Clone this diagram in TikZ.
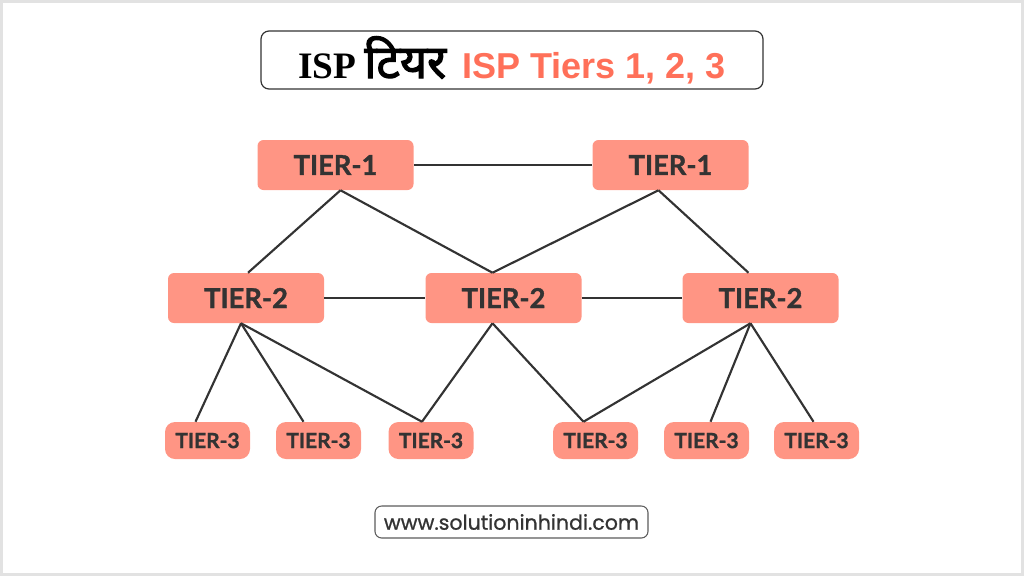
\documentclass[tikz,border=0pt]{standalone}
\usepackage{fontspec}
\setmainfont{Lato}[BoldFeatures={FakeBold=1.3}]
\newfontfamily\titleserif{Liberation Serif}
\newfontfamily\titlesans{Liberation Sans}
\newfontfamily\hindifont[Script=Devanagari,FakeBold=2.5]{Noto Sans}
\newfontfamily\urlfont[FakeBold=0.8]{Poppins}
\usepackage{xcolor}
\usetikzlibrary{calc,positioning}
\definecolor{tierfill}{HTML}{FF9584}
\definecolor{titlered}{HTML}{FF7059}
\definecolor{ink}{HTML}{333333}
\definecolor{framegray}{HTML}{E2E2E2}

\begin{document}
\begin{tikzpicture}[x=0.75pt,y=-0.75pt,
    tier/.style={rectangle,rounded corners=4.5pt,fill=tierfill,text=ink,
                 font=\fontsize{20.5}{24}\selectfont\bfseries,
                 minimum width=117pt,minimum height=37.5pt,inner sep=0pt},
    tiersmall/.style={tier,rounded corners=7.5pt,
                 font=\fontsize{15.7}{19}\selectfont\bfseries,
                 minimum width=63.75pt,minimum height=27.75pt},
    link/.style={draw=ink,line width=1.6pt}]

  \useasboundingbox (0,0) rectangle (1024,576);
  \draw[framegray,line width=2.2pt] (1.5,1.5) rectangle (1022.5,574.5);

  % title
  \node[draw=ink,line width=0.9pt,rounded corners=6pt,fill=white,
        minimum width=376.5pt,minimum height=43.5pt,inner sep=0pt]
        (title) at (512,60)
        {\fontsize{28}{32}\selectfont\bfseries
         {\titleserif ISP}\hspace{6pt}{\hindifont\fontsize{35}{40}\selectfont टियर}\hspace{12pt}{\titlesans\fontsize{27}{32}\selectfont\color{titlered}ISP Tiers 1, 2, 3}};

  % tier 1
  \node[tier] (t1l) at (335.5,165) {TIER-1};
  \node[tier] (t1r) at (670.5,165) {TIER-1};

  % tier 2
  \node[tier] (t2l) at (246,298) {TIER-2};
  \node[tier] (t2m) at (503.5,298) {TIER-2};
  \node[tier] (t2r) at (760.5,298) {TIER-2};

  % tier 3
  \node[tiersmall] (t3a) at (207.5,440.5) {TIER-3};
  \node[tiersmall] (t3b) at (318.5,440.5) {TIER-3};
  \node[tiersmall] (t3c) at (431,440.5) {TIER-3};
  \node[tiersmall] (t3d) at (595.5,440.5) {TIER-3};
  \node[tiersmall] (t3e) at (706.5,440.5) {TIER-3};
  \node[tiersmall] (t3f) at (816.5,440.5) {TIER-3};

  \path[link] (t1l) edge (t1r)
        (t2l) edge (t2m)
        (t2m) edge (t2r)
        ($(t1l.south)+(5,0)$) edge ($(t2l.north)+(2,0)$)
        ($(t1l.south)+(5,0)$) edge ($(t2m.north)+(-11,0)$)
        ($(t1r.south)+(-12,0)$) edge ($(t2m.north)+(-11,0)$)
        ($(t1r.south)+(-12,0)$) edge ($(t2r.north)+(-12,0)$)
        ($(t2l.south)+(-5,0)$) edge ($(t3a.north)+(-12,0)$)
        ($(t2l.south)+(-5,0)$) edge ($(t3b.north)+(-15,0)$)
        ($(t2l.south)+(-5,0)$) edge ($(t3c.north)+(-9,0)$)
        ($(t2m.south)+(-11,0)$) edge ($(t3c.north)+(-9,0)$)
        ($(t2m.south)+(-11,0)$) edge ($(t3d.north)+(-12,0)$)
        ($(t2r.south)+(-10,0)$) edge ($(t3d.north)+(-12,0)$)
        ($(t2r.south)+(-10,0)$) edge ($(t3e.north)+(4,0)$)
        ($(t2r.south)+(-10,0)$) edge ($(t3f.north)+(-3,0)$)
        ;

  % footer
  \node[draw=ink!80,line width=0.8pt,rounded corners=5pt,fill=white,
        minimum width=204.75pt,minimum height=24pt,inner sep=0pt,
        text=ink,font=\urlfont\fontsize{15.4}{18}\selectfont]
        (url) at (511.5,522) {www.solutioninhindi.com};
\end{tikzpicture}
\end{document}
